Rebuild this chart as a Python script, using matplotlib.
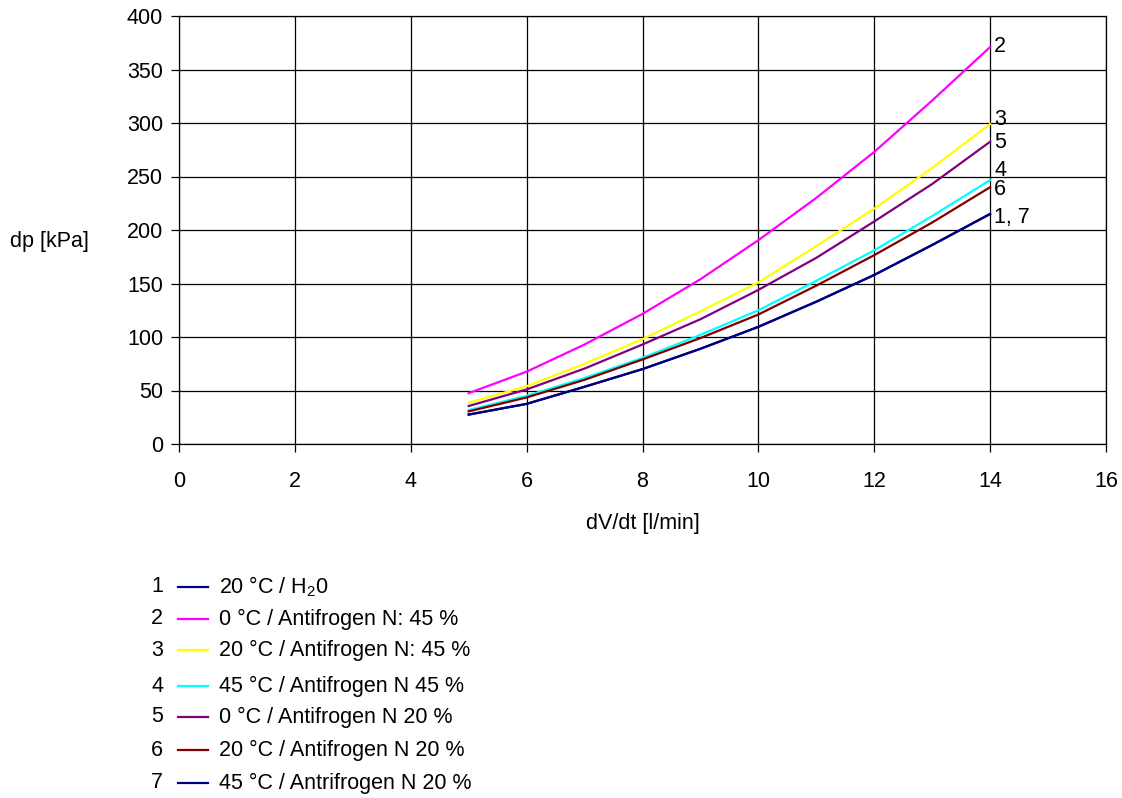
import matplotlib
matplotlib.use("Agg")
import matplotlib.pyplot as plt
from matplotlib.lines import Line2D

plt.rcParams['font.family'] = ['Liberation Sans', 'DejaVu Sans']
plt.rcParams['mathtext.fontset'] = 'custom'
plt.rcParams['mathtext.rm'] = 'Liberation Sans'
plt.rcParams['mathtext.it'] = 'Liberation Sans'

# Flow rate [l/min]
flow = [5, 6, 7, 8, 9, 10, 11, 12, 13, 14]

# Pressure drop [kPa] per medium / temperature
dp_1 = [27.5, 37.5, 53.5, 70, 89, 109.5, 133, 158, 186, 215]
dp_2 = [47.5, 67.6, 93, 121.6, 154, 190.5, 230, 273, 321, 371]
dp_3 = [38.5, 54, 75, 98, 124, 151, 185, 220, 258, 299]
dp_4 = [31.8, 45, 61.7, 80.5, 102, 125, 152.5, 181, 213, 246.7]
dp_5 = [35.5, 51, 70.5, 93, 116.6, 144, 174, 208, 243, 282.5]
dp_6 = [30.5, 43.5, 60, 79, 99, 121, 148, 176.5, 207, 240]
dp_7 = [27.5, 37.5, 53.5, 70, 89, 109.5, 133, 158, 186, 215]

series = [dp_1, dp_2, dp_3, dp_4, dp_5, dp_6, dp_7]
colors = ['#000080', '#FF00FF', '#FFFF00', '#00FFFF', '#800080', '#800000', '#000080']
legend_labels = [
    '20 °C / H$_2$0',
    '0 °C / Antifrogen N: 45 %',
    '20 °C / Antifrogen N: 45 %',
    '45 °C / Antifrogen N 45 %',
    '0 °C / Antifrogen N 20 %',
    '20 °C / Antifrogen N 20 %',
    '45 °C / Antrifrogen N 20 %',
]
end_labels = ['2', '3', '5', '4', '6', '1, 7']
end_values = [dp_2[-1], dp_3[-1], dp_5[-1], dp_4[-1], dp_6[-1], dp_1[-1]]
end_offsets = [0.5, 3.6, -0.7, 6.7, -1.7, -2.9]

FS = 15.5
W, H = 1122, 798
fig = plt.figure(figsize=(W / 100, H / 100), dpi=100)
ax = fig.add_axes([179 / W, 1 - 444 / H, 927 / W, 428 / H])

for vals, c in zip(series, colors):
    ax.plot(flow, vals, color=c, lw=1.6, solid_joinstyle='round')

ax.set_xlim(0, 16)
ax.set_ylim(0, 400)
ax.set_xticks(range(0, 17, 2))
ax.set_yticks(range(0, 401, 50))
ax.grid(True, color='black', lw=0.9)
ax.set_axisbelow(True)
for s in ax.spines.values():
    s.set_color('black')
    s.set_linewidth(0.9)
ax.tick_params(direction='out', length=5.5, width=0.9, labelsize=FS)
ax.tick_params(axis='y', pad=6)
ax.tick_params(axis='x', pad=14)
ax.set_xlabel('dV/dt [l/min]', fontsize=FS, labelpad=15)
ax.set_ylabel('dp [kPa]', fontsize=FS, rotation=0, ha='left', va='center')
ax.yaxis.set_label_coords(-169 / 927, 1 - (241 - 16) / 428)

for lab, v, off in zip(end_labels, end_values, end_offsets):
    ax.annotate(lab, (flow[-1], v), xytext=(3, off), textcoords='offset points',
                fontsize=FS, ha='left', va='center')

# Legend block below the chart
row_y = [587, 619, 650, 686, 717, 750, 783]
for i, (lab, c, y) in enumerate(zip(legend_labels, colors, row_y)):
    fy = 1 - y / H
    fig.text(157 / W, fy, str(i + 1), fontsize=FS, ha='center', va='center')
    fig.add_artist(Line2D([178 / W, 208 / W], [fy, fy], color=c, lw=1.6,
                          transform=fig.transFigure))
    fig.text(219 / W, fy, lab, fontsize=FS, ha='left', va='center')

fig.savefig('out.png', dpi=100)
